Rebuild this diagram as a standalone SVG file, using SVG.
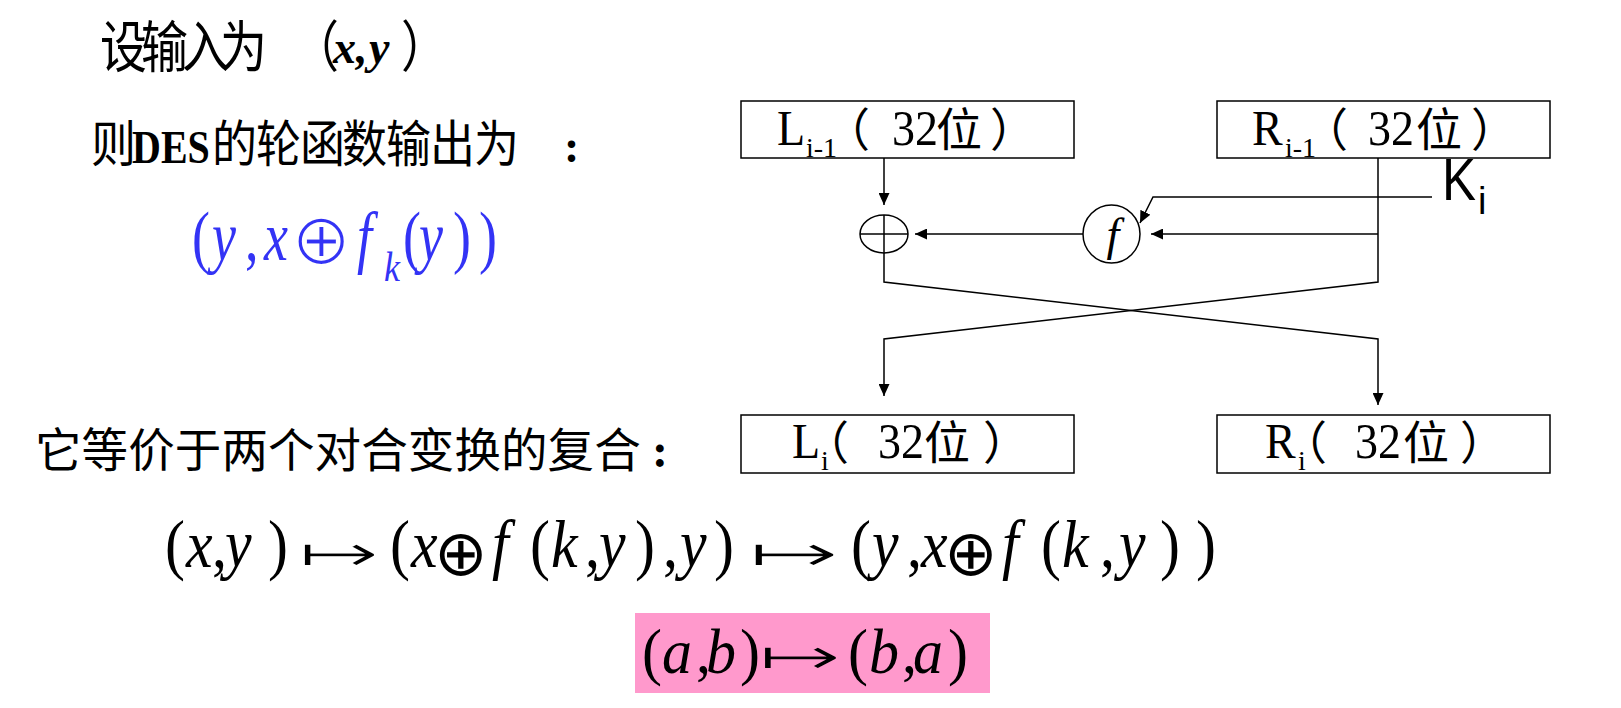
<svg xmlns="http://www.w3.org/2000/svg" width="1621" height="708" viewBox="0 0 1621 708">
<style>
.cjk{font-family:"Noto Sans CJK SC","Noto Sans CJK TC",sans-serif;fill:#000}
.ser{font-family:"Liberation Serif","Times New Roman",serif;fill:#000}
.it{font-style:italic}
.sym{font-family:"DejaVu Sans","DejaVu Serif",sans-serif;stroke:#fff;stroke-width:2}
.op{font-family:"DejaVu Sans","DejaVu Serif",sans-serif;fill:#000}
.arr{font-family:"DejaVu Sans","DejaVu Serif",sans-serif;stroke:#fff;stroke-width:1.4}
.box{fill:#fff;stroke:#000;stroke-width:1.5}
.ln{fill:none;stroke:#000;stroke-width:1.5}
.blue{fill:#3333F5}
</style>
<defs>
<marker id="ah" viewBox="0 0 12 11" refX="12" refY="5.5" markerWidth="12" markerHeight="11" markerUnits="userSpaceOnUse" orient="auto">
<path d="M0,0 L12,5.5 L0,11 z" fill="#000"/>
</marker>
</defs>
<rect width="1621" height="708" fill="#fff"/>

<g id="text-left">
<text class="cjk" transform="translate(0,67) scale(1,1.18)" font-size="47"><tspan x="100 141 182 220">设输入为</tspan><tspan x="292">（</tspan><tspan x="401">）</tspan></text>
<text class="ser it" y="63" font-size="46" font-weight="bold"><tspan x="333">x</tspan><tspan x="356">,</tspan><tspan x="369">y</tspan></text>

<text class="cjk" transform="translate(0,162) scale(1,1.1)" font-size="45"><tspan x="91">则</tspan><tspan x="212 256 300 342 386 430 474">的轮函数输出为</tspan></text>
<text class="ser" transform="translate(132,163) scale(1,1.18)" font-size="40" font-weight="bold">DES</text>
<text class="ser" x="564" y="162" font-size="46" font-weight="bold">:</text>

<text class="cjk" y="467" font-size="46.5"><tspan x="35 81.6 128.2 174.8 221.4 268 314.6 361.2 407.8 454.4 501 547.6 594.2">它等价于两个对合变换的复合</tspan></text>
<text class="ser" x="652" y="467" font-size="48" font-weight="bold">:</text>
</g>

<g id="formula-blue">
<text class="ser blue" transform="translate(0,260) scale(1,1.3)" font-size="54"><tspan x="192">(</tspan><tspan class="it" x="212">y</tspan><tspan x="245">,</tspan><tspan class="it" x="264">x</tspan><tspan class="it" x="357">f</tspan><tspan x="403">(</tspan><tspan class="it" x="419">y</tspan><tspan x="453">)</tspan><tspan x="479">)</tspan></text>
<text class="sym blue" x="291" y="264" font-size="72">⊕</text>
<text class="ser it blue" transform="translate(384,281) scale(1,1.15)" font-size="36">k</text>
</g>

<g id="formula-main">
<text class="ser" transform="translate(0,567) scale(1,1.12)" font-size="60"><tspan x="165">(</tspan><tspan class="it" x="186">x</tspan><tspan x="212">,</tspan><tspan class="it" x="225">y</tspan><tspan x="268">)</tspan><tspan x="390">(</tspan><tspan class="it" x="411">x</tspan><tspan class="it" x="492">f</tspan><tspan x="530">(</tspan><tspan class="it" x="551">k</tspan><tspan x="585">,</tspan><tspan class="it" x="599">y</tspan><tspan x="635">)</tspan><tspan x="663">,</tspan><tspan class="it" x="680">y</tspan><tspan x="714">)</tspan><tspan x="851">(</tspan><tspan class="it" x="872">y</tspan><tspan x="907">,</tspan><tspan class="it" x="921">x</tspan><tspan class="it" x="1002">f</tspan><tspan x="1041">(</tspan><tspan class="it" x="1062">k</tspan><tspan x="1100">,</tspan><tspan class="it" x="1119">y</tspan><tspan x="1160">)</tspan><tspan x="1196">)</tspan></text>
<text class="op" x="434" y="575" font-size="64">⊕</text>
<text class="op" x="944" y="575" font-size="64">⊕</text>
<text class="arr" x="298" y="571" font-size="52" textLength="82" lengthAdjust="spacingAndGlyphs">↦</text>
<text class="arr" x="748" y="571" font-size="52" textLength="92" lengthAdjust="spacingAndGlyphs">↦</text>
</g>

<g id="formula-pink">
<rect x="635" y="613" width="355" height="80" fill="#FF99CC"/>
<text class="ser" transform="translate(0,673) scale(1,1.05)" font-size="60"><tspan x="642">(</tspan><tspan class="it" x="662">a</tspan><tspan x="696">,</tspan><tspan class="it" x="706">b</tspan><tspan x="740">)</tspan><tspan x="848">(</tspan><tspan class="it" x="869">b</tspan><tspan x="902">,</tspan><tspan class="it" x="913">a</tspan><tspan x="948">)</tspan></text>
<text class="arr" x="758" y="674" font-size="52" style="stroke:#FF99CC" textLength="84" lengthAdjust="spacingAndGlyphs">↦</text>
</g>

<g id="connectors">
<line class="ln" x1="884" y1="158" x2="884" y2="205" marker-end="url(#ah)"/>
<line class="ln" x1="1083" y1="234" x2="915" y2="234" marker-end="url(#ah)"/>
<line class="ln" x1="1378" y1="234" x2="1151" y2="234" marker-end="url(#ah)"/>
<polyline class="ln" points="1432,197 1153,197 1140,223" marker-end="url(#ah)"/>
<polyline class="ln" points="884,253 884,282 1378,339 1378,405" marker-end="url(#ah)"/>
<polyline class="ln" points="1378,158 1378,282 884,339 884,396" marker-end="url(#ah)"/>
</g>

<g id="node-L-prev">
<rect class="box" x="741" y="101" width="333" height="57"/>
<text class="ser" transform="translate(777,145) scale(1,1.08)" font-size="46">L</text>
<text class="ser" x="806" y="157" font-size="28">i-1</text>
<text class="cjk" font-size="46" y="146"><tspan x="824">（</tspan><tspan x="936">位</tspan><tspan x="990">）</tspan></text>
<text class="ser" transform="translate(892,145) scale(1,1.1)" font-size="46">32</text>
</g>

<g id="node-R-prev">
<rect class="box" x="1217" y="101" width="333" height="57"/>
<text class="ser" transform="translate(1252,145) scale(1,1.08)" font-size="46">R</text>
<text class="ser" x="1285" y="157" font-size="28">i-1</text>
<text class="cjk" font-size="46" y="146"><tspan x="1302">（</tspan><tspan x="1416">位</tspan><tspan x="1471">）</tspan></text>
<text class="ser" transform="translate(1368,145) scale(1,1.1)" font-size="46">32</text>
</g>

<g id="node-L">
<rect class="box" x="741" y="415" width="333" height="58"/>
<text class="ser" transform="translate(792,458) scale(1,1.08)" font-size="46">L</text>
<text class="ser" x="821" y="470" font-size="28">i</text>
<text class="cjk" font-size="46" y="459"><tspan x="803">（</tspan><tspan x="924">位</tspan><tspan x="983">）</tspan></text>
<text class="ser" transform="translate(878,458) scale(1,1.1)" font-size="46">32</text>
</g>

<g id="node-R">
<rect class="box" x="1217" y="415" width="333" height="58"/>
<text class="ser" transform="translate(1265,458) scale(1,1.08)" font-size="46">R</text>
<text class="ser" x="1298" y="470" font-size="28">i</text>
<text class="cjk" font-size="46" y="459"><tspan x="1281">（</tspan><tspan x="1403">位</tspan><tspan x="1460">）</tspan></text>
<text class="ser" transform="translate(1355,458) scale(1,1.1)" font-size="46">32</text>
</g>

<g id="node-xor">
<ellipse class="ln" cx="884" cy="234" rx="24" ry="19"/>
<line class="ln" x1="860" y1="234" x2="908" y2="234"/>
<line class="ln" x1="884" y1="215" x2="884" y2="253"/>
</g>

<g id="node-f">
<ellipse class="ln" cx="1111.5" cy="234" rx="28.5" ry="29"/>
<text class="ser it" x="1113" y="250" font-size="46" text-anchor="middle">f</text>
</g>

<g id="node-key">
<text font-family="Liberation Sans, Arial, sans-serif" font-size="60" transform="translate(1442,200) scale(0.85,1)">K</text>
<text font-family="Liberation Sans, Arial, sans-serif" font-size="38" x="1478" y="214">i</text>
</g>
</svg>
